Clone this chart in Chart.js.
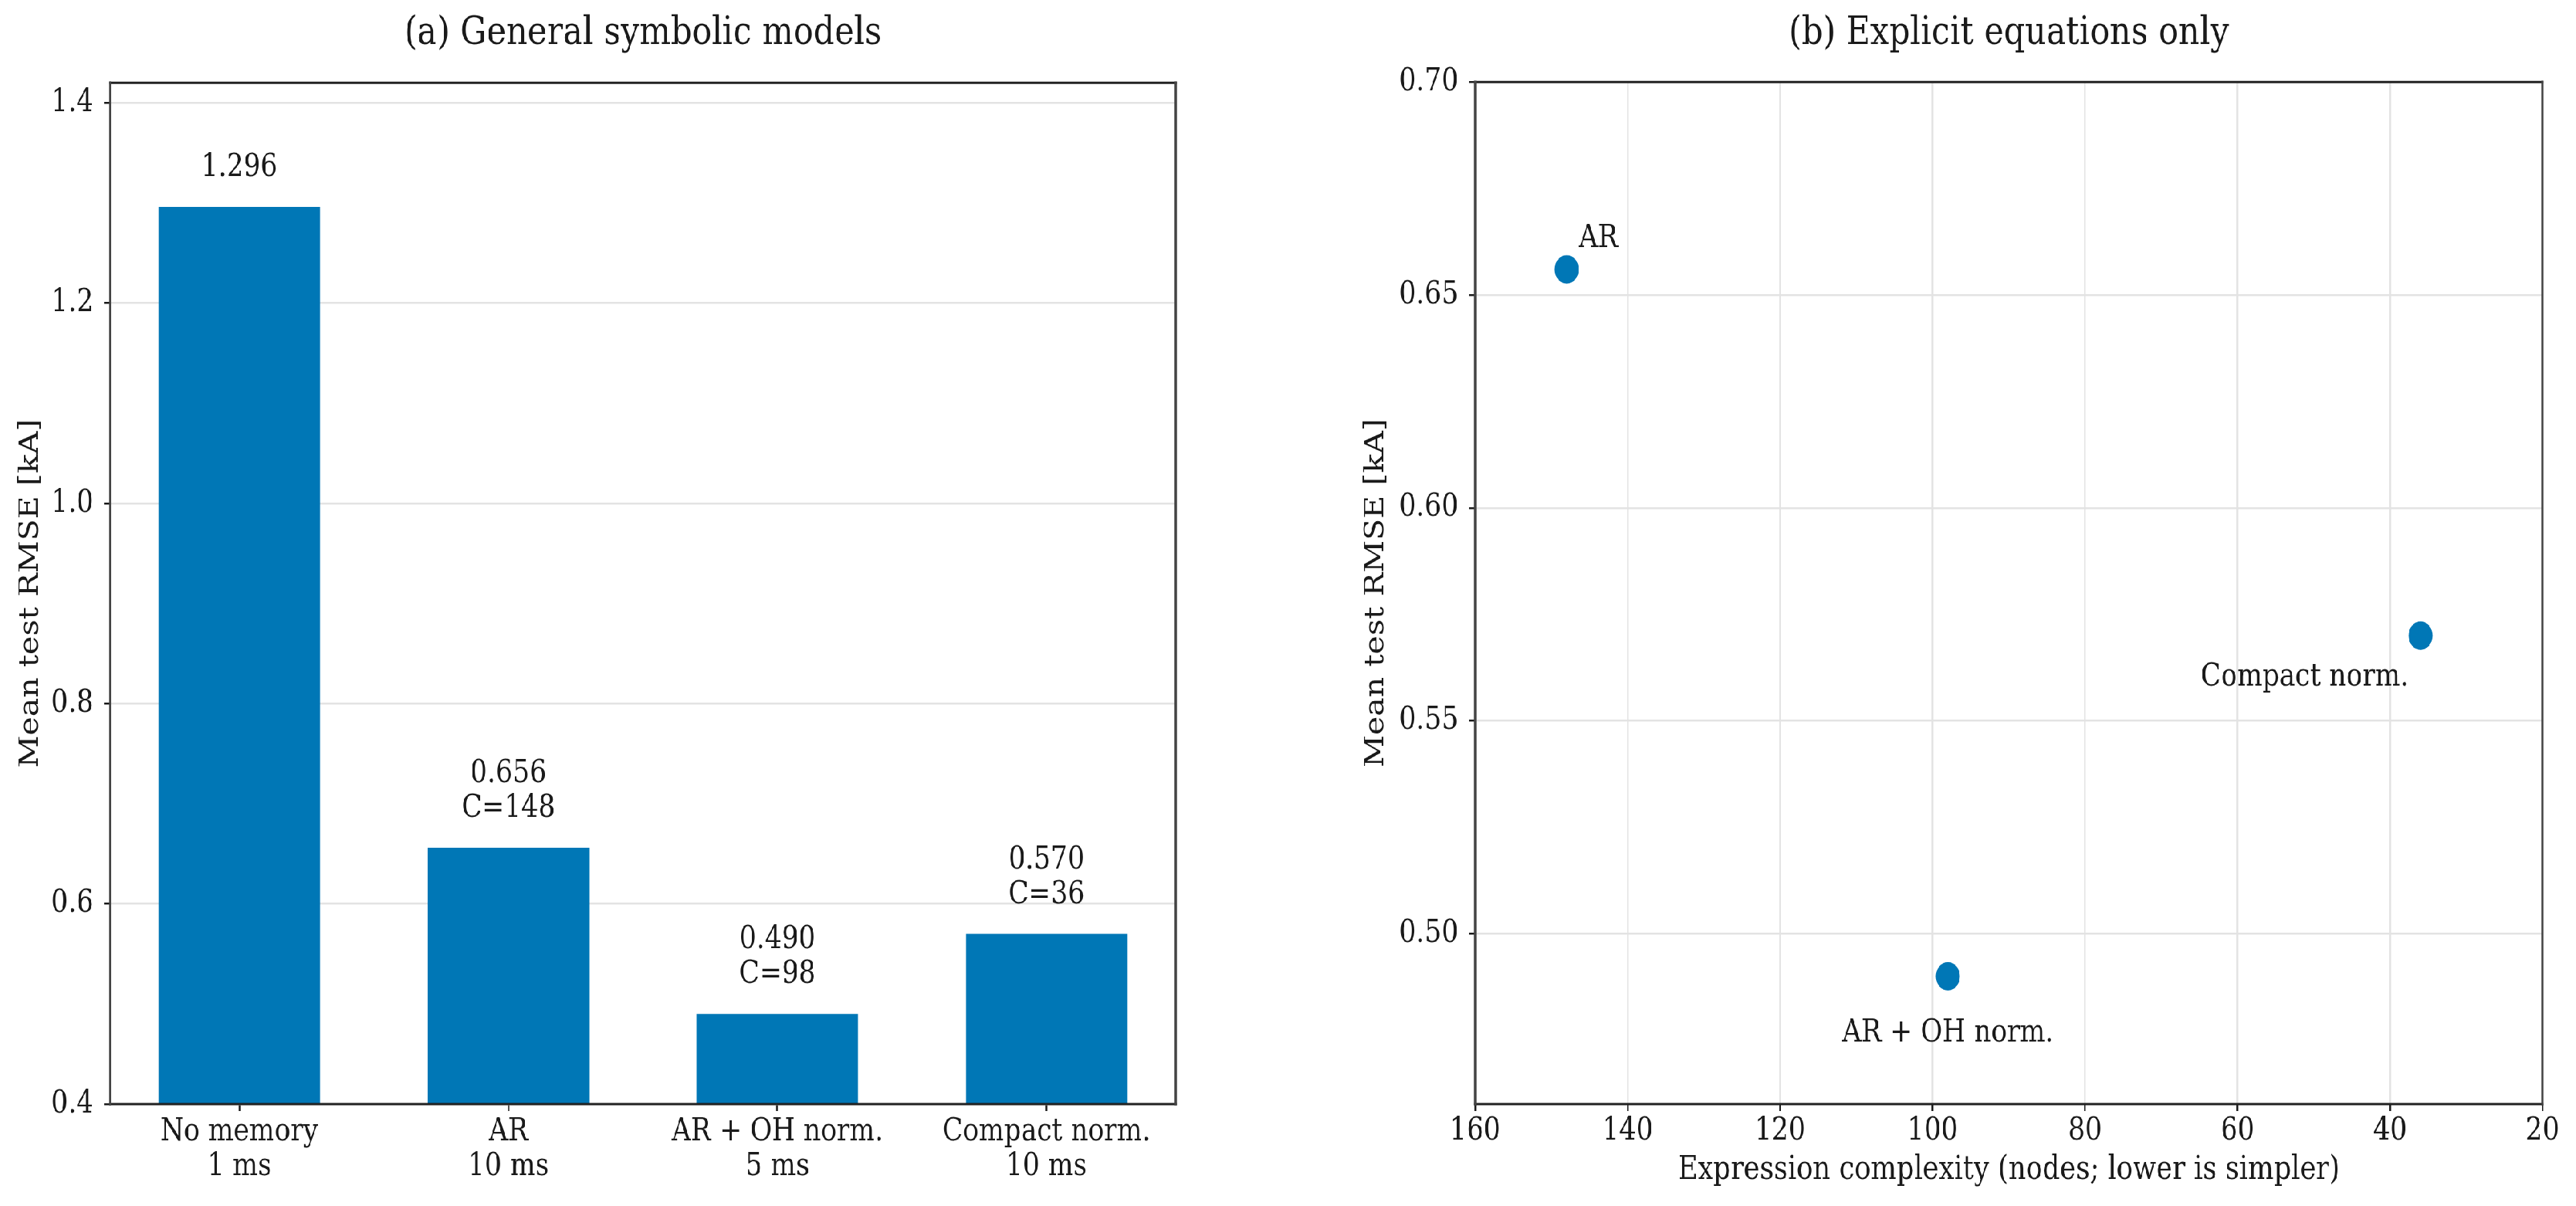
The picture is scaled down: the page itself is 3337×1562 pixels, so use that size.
<!DOCTYPE html>
<html>
<head>
<meta charset="utf-8">
<title>Symbolic models RMSE</title>
<script src="https://cdn.jsdelivr.net/npm/chart.js@4.4.1/dist/chart.umd.min.js"></script>
<style>
  html, body { margin: 0; padding: 0; background: #fff; overflow: hidden; }
  /* the figure is drawn wide and squeezed horizontally, like the original */
  #wrap { position: absolute; left: 0; top: 0; width: 3973px; height: 1562px;
          transform: scaleX(0.84); transform-origin: 0 0; }
  canvas { position: absolute; top: 0; }
</style>
</head>
<body>
<div id="wrap">
  <canvas id="barChart" width="2024" height="1562" style="left:0"></canvas>
  <canvas id="scatterChart" width="1949" height="1562" style="left:2024px"></canvas>
</div>
<script>
const SQUEEZE = 0.84;

// (a) General symbolic models
const models = [['No memory', '1 ms'], ['AR', '10 ms'], ['AR + OH norm.', '5 ms'], ['Compact norm.', '10 ms']];
const meanRmse = [1.296, 0.656, 0.490, 0.570];
const complexity = [null, 148, 98, 36];
const yTicksA = [0.4, 0.6, 0.8, 1.0, 1.2, 1.4];

// (b) Explicit equations only
const eqNames = ['AR', 'AR + OH norm.', 'Compact norm.'];
const eqComplexity = [148, 98, 36];
const eqRmse = [0.656, 0.490, 0.570];
const xTicksB = [160, 140, 120, 100, 80, 60, 40, 20];
const yTicksB = [0.50, 0.55, 0.60, 0.65, 0.70];

// label offsets from the marker (screen px, to text baseline)
const eqLabelOffset = [[41, -29], [0, 84], [-150, 65]];

const FONT = "'DejaVu Serif', serif";
const INK = '#1a1a1a';
const GRID = '#e3e3e3';
const BLUE = '#0077B6';

Chart.defaults.font.family = FONT;
Chart.defaults.color = INK;

// black box around the axes, like matplotlib spines
const framePlugin = {
  id: 'frame',
  afterDraw(chart) {
    const { ctx, chartArea: a } = chart;
    ctx.save();
    ctx.lineCap = 'square';
    ctx.strokeStyle = '#222';
    ctx.lineWidth = 3;
    ctx.beginPath();
    ctx.moveTo(a.left, a.top); ctx.lineTo(a.right, a.top);
    ctx.moveTo(a.left, a.bottom); ctx.lineTo(a.right, a.bottom);
    ctx.stroke();
    ctx.strokeStyle = '#444';
    ctx.lineWidth = 3.5;
    ctx.beginPath();
    ctx.moveTo(a.left, a.top); ctx.lineTo(a.left, a.bottom);
    ctx.moveTo(a.right, a.top); ctx.lineTo(a.right, a.bottom);
    ctx.stroke();
    ctx.restore();
  }
};

const barLabelPlugin = {
  id: 'barLabels',
  afterDatasetsDraw(chart) {
    const { ctx } = chart;
    ctx.save();
    ctx.font = '41px ' + FONT;
    ctx.fillStyle = INK;
    ctx.textAlign = 'center';
    ctx.textBaseline = 'alphabetic';
    chart.getDatasetMeta(0).data.forEach((bar, i) => {
      const lines = [meanRmse[i].toFixed(3)];
      if (complexity[i] !== null) lines.push('C=' + complexity[i]);
      lines.forEach((t, k) => {
        ctx.fillText(t, bar.x, bar.y - 40 - (lines.length - 1 - k) * 45);
      });
    });
    ctx.restore();
  }
};

const pointLabelPlugin = {
  id: 'pointLabels',
  afterDatasetsDraw(chart) {
    const { ctx } = chart;
    ctx.save();
    ctx.font = '41px ' + FONT;
    ctx.fillStyle = INK;
    ctx.textAlign = 'center';
    ctx.textBaseline = 'alphabetic';
    chart.getDatasetMeta(0).data.forEach((pt, i) => {
      const [dx, dy] = eqLabelOffset[i];
      ctx.fillText(eqNames[i], pt.x + dx / SQUEEZE, pt.y + dy);
    });
    ctx.restore();
  }
};

const tickGrid = { tickLength: 9, tickColor: INK, tickWidth: 2.5 };

new Chart(document.getElementById('barChart'), {
  type: 'bar',
  data: {
    datasets: [{
      data: meanRmse.map((v, i) => ({ x: i, y: v })),
      backgroundColor: BLUE,
      borderWidth: 0,
      barPercentage: 0.6,
      categoryPercentage: 1
    }]
  },
  options: {
    responsive: false,
    devicePixelRatio: 1,
    animation: false,
    layout: { padding: { left: 0, right: 211, top: 0, bottom: 0 } },
    plugins: {
      legend: { display: false },
      tooltip: { enabled: false },
      title: {
        display: true,
        text: '(a) General symbolic models',
        fullSize: false,
        color: INK,
        font: { size: 51, weight: 'normal' },
        padding: { top: 13, bottom: 33 }
      }
    },
    scales: {
      x: {
        type: 'linear',
        min: -0.48,
        max: 3.48,
        offset: false,
        afterBuildTicks: (s) => { s.ticks = models.map((m, i) => ({ value: i })); },
        afterFit: (s) => { s.height = 132; },
        grid: { drawOnChartArea: false, offset: false, ...tickGrid },
        border: { display: false },
        ticks: {
          callback: (v) => models[v],
          font: { size: 41, lineHeight: 1.1 },
          padding: 5,
          maxRotation: 0,
          autoSkip: false
        }
      },
      y: {
        min: 0.4,
        max: 1.42,
        afterBuildTicks: (s) => { s.ticks = yTicksA.map((v) => ({ value: v })); },
        afterFit: (s) => { s.width = 170; },
        grid: { color: GRID, lineWidth: 2.5, ...tickGrid },
        border: { display: false },
        ticks: { callback: (v) => v.toFixed(1), font: { size: 41 }, padding: 17 },
        title: {
          display: true,
          text: 'Mean test RMSE [kA]',
          font: { size: 41 },
          padding: { top: 23, bottom: 0 }
        }
      }
    }
  },
  plugins: [framePlugin, barLabelPlugin]
});

new Chart(document.getElementById('scatterChart'), {
  type: 'scatter',
  data: {
    datasets: [{
      data: eqComplexity.map((c, i) => ({ x: c, y: eqRmse[i] })),
      backgroundColor: BLUE,
      borderWidth: 0,
      pointRadius: 18.5,
      pointHoverRadius: 18.5
    }]
  },
  options: {
    responsive: false,
    devicePixelRatio: 1,
    animation: false,
    layout: { padding: { left: 0, right: 52, top: 0, bottom: 0 } },
    plugins: {
      legend: { display: false },
      tooltip: { enabled: false },
      title: {
        display: true,
        text: '(b) Explicit equations only',
        fullSize: false,
        color: INK,
        font: { size: 51, weight: 'normal' },
        padding: { top: 13, bottom: 32 }
      }
    },
    scales: {
      x: {
        type: 'linear',
        reverse: true,
        min: 20,
        max: 160,
        afterBuildTicks: (s) => { s.ticks = xTicksB.map((v) => ({ value: v })); },
        afterFit: (s) => { s.height = 132; },
        grid: { color: GRID, lineWidth: 2.5, ...tickGrid },
        border: { display: false },
        ticks: { font: { size: 41, lineHeight: 1.1 }, padding: 4, maxRotation: 0, autoSkip: false },
        title: {
          display: true,
          text: 'Expression complexity (nodes; lower is simpler)',
          font: { size: 42 },
          padding: { top: 0, bottom: 21 }
        }
      },
      y: {
        min: 0.46,
        max: 0.70,
        afterBuildTicks: (s) => { s.ticks = yTicksB.map((v) => ({ value: v })); },
        afterFit: (s) => { s.width = 251; },
        grid: { color: GRID, lineWidth: 2.5, ...tickGrid },
        border: { display: false },
        ticks: { callback: (v) => v.toFixed(2), font: { size: 41 }, padding: 17 },
        title: {
          display: true,
          text: 'Mean test RMSE [kA]',
          font: { size: 41 },
          padding: { top: 74, bottom: 0 }
        }
      }
    }
  },
  plugins: [framePlugin, pointLabelPlugin]
});
</script>
</body>
</html>
